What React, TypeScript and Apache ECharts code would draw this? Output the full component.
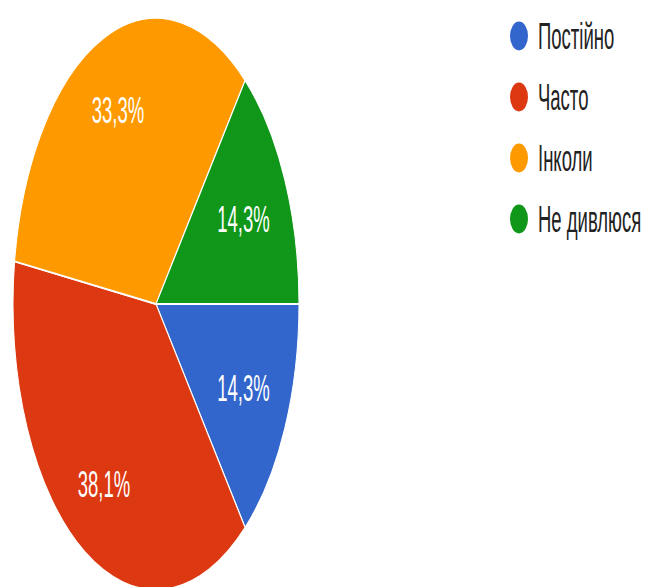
import React, { useEffect, useRef } from "react";
import * as echarts from "echarts";

const categories = ["Постійно", "Часто", "Інколи", "Не дивлюся"];
const values = [3, 8, 7, 3];
const colors = ["#3366cc", "#dc3912", "#ff9900", "#109618"];

export default function App() {
  const ref = useRef<HTMLDivElement>(null);
  useEffect(() => {
    const chart = echarts.init(ref.current!, null, { renderer: "svg" });
    const total = values.reduce((a, b) => a + b, 0);
    const data = categories.map((name, i) => ({
      name,
      value: values[i],
      itemStyle: { color: colors[i] },
    }));
    const labelStyle = {
      position: "inside",
      color: "#ffffff",
      fontFamily: "Arial, 'Liberation Sans', sans-serif",
      fontSize: 18.5,
      formatter: (p: any) =>
        ((p.value / total) * 100).toFixed(1).replace(".", ",") + "%",
    };
    // label-only rings: small slices get labels a bit nearer the centre
    const labelSeries = (inner: number, showFor: (v: number) => boolean) => ({
      type: "pie",
      center: [156, 152],
      radius: [inner, 143],
      startAngle: 0,
      clockwise: true,
      silent: true,
      data: data.map((d) => ({
        ...d,
        itemStyle: { color: "rgba(0,0,0,0)" },
        label: { show: showFor(d.value / total) },
      })),
      itemStyle: { borderWidth: 0 },
      label: { show: true, ...labelStyle },
      labelLine: { show: false },
      emphasis: { disabled: true },
    });
    chart.setOption({
      animation: false,
      color: colors,
      legend: {
        orient: "vertical",
        left: 508,
        top: 8,
        padding: 0,
        itemWidth: 20,
        itemHeight: 16.5,
        itemGap: 10.5,
        symbolKeepAspect: false,
        icon: "path://M10 0A10 10 0 1 1 10 20A10 10 0 1 1 10 0Z",
        data: categories,
        textStyle: {
          fontFamily: "Arial, 'Liberation Sans', sans-serif",
          fontSize: 18.5,
          lineHeight: 20,
          color: "#222222",
          padding: [0, 0, 0, 4],
        },
      },
      series: [
        {
          type: "pie",
          center: [156, 152],
          radius: [0, 143],
          startAngle: 0,
          clockwise: true,
          silent: true,
          data,
          label: { show: false },
          labelLine: { show: false },
          itemStyle: { borderColor: "#ffffff", borderWidth: 1 },
          emphasis: { disabled: true },
        },
        labelSeries(45, (f) => f < 0.25),
        labelSeries(59, (f) => f >= 0.25),
      ],
    });
    return () => chart.dispose();
  }, []);
  return (
    <div
      style={{
        position: "fixed",
        left: 0,
        top: 0,
        width: 647,
        height: 587,
        overflow: "hidden",
        background: "#ffffff",
      }}
    >
      <div
        ref={ref}
        style={{
          width: 647,
          height: 293.5,
          transform: "scaleY(2)",
          transformOrigin: "0 0",
        }}
      />
    </div>
  );
}
